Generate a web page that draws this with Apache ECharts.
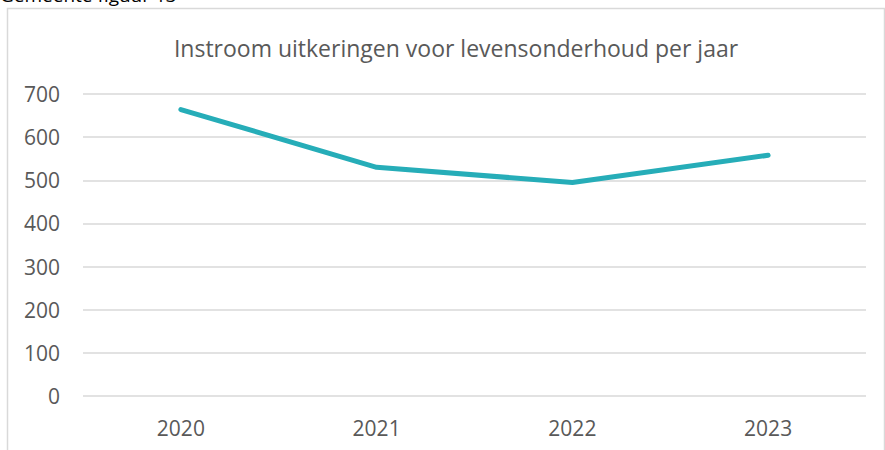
<!DOCTYPE html>
<html>
<head>
<meta charset="utf-8">
<script src="https://cdn.jsdelivr.net/npm/echarts@6/dist/echarts.min.js"></script>
<style>
  html, body { margin: 0; padding: 0; background: #fff; }
  #chart { width: 885px; height: 450px; }
</style>
</head>
<body>
<div id="chart"></div>
<script>
var years = ['2020', '2021', '2022', '2023'];
var instroom = [664, 530, 495, 558];
var yTicks = [0, 700, 100];

var chart = echarts.init(document.getElementById('chart'), null, { renderer: 'svg' });
chart.setOption({
  animation: false,
  textStyle: { fontFamily: '"Open Sans", "Liberation Sans", sans-serif' },
  title: {
    text: 'Instroom uitkeringen voor levensonderhoud per jaar',
    left: 451,
    top: 31,
    textAlign: 'center',
    textStyle: { color: '#595959', fontSize: 23, fontWeight: 'normal', fontFamily: '"Open Sans", sans-serif' }
  },
  graphic: [
    {
      type: 'rect',
      shape: { x: 7.5, y: 8.5, width: 877, height: 470 },
      style: { fill: 'none', stroke: '#d9d9d9', lineWidth: 1.5 },
      silent: true
    },
    {
      type: 'text',
      left: 0,
      top: -15,
      style: { text: 'Gemeente figuur 13', fill: '#000', fontSize: 19, fontFamily: '"Open Sans", sans-serif' }
    }
  ],
  grid: { left: 83, right: 19, top: 94, bottom: 54 },
  xAxis: {
    type: 'category',
    data: years,
    boundaryGap: true,
    axisLine: { show: false },
    axisTick: { show: false },
    axisLabel: { color: '#595959', fontSize: 21, margin: 21 }
  },
  yAxis: {
    type: 'value',
    min: yTicks[0],
    max: yTicks[1],
    interval: yTicks[2],
    axisLine: { show: false },
    axisTick: { show: false },
    splitLine: { lineStyle: { color: '#d9d9d9', width: 1.5 } },
    axisLabel: { color: '#595959', fontSize: 21, margin: 23 }
  },
  series: [{
    type: 'line',
    data: instroom,
    symbol: 'none',
    lineStyle: { color: '#26adb8', width: 5, cap: 'round', join: 'round' },
    itemStyle: { color: '#26adb8' }
  }]
});
</script>
</body>
</html>
